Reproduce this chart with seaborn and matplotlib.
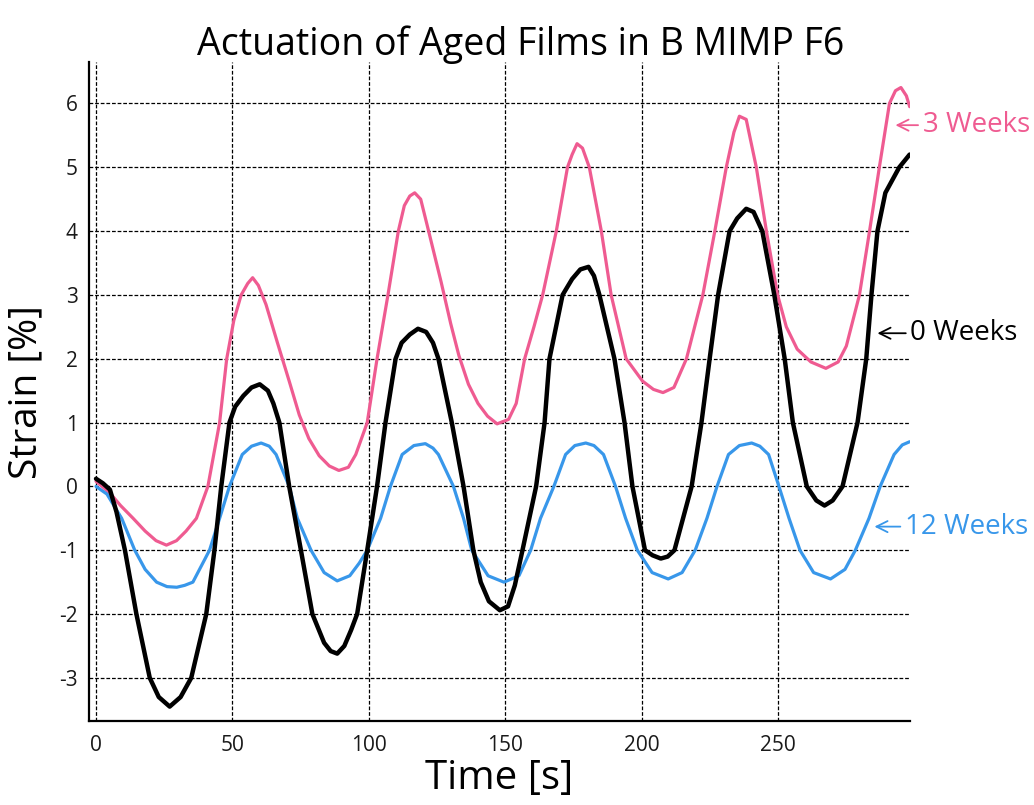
import matplotlib
matplotlib.use("Agg")
import matplotlib.pyplot as plt
import seaborn as sns

# values
black_t = [0, 2.5, 5.1, 7.5, 10.6, 14.8, 19.7, 23, 27, 31,
           34.9, 40.4, 43.4, 45.9, 48.9, 51, 54, 57, 60, 63,
           65, 67.2, 70.8, 75.1, 79.3, 83.6, 86, 88.4, 91, 93.5,
           95.7, 99.4, 103, 106.1, 109.8, 112, 115, 118, 121, 123.5,
           125.5, 130.4, 134.7, 138.3, 141, 144, 148, 151, 153.5, 156.3,
           161.3, 164.4, 166.2, 171, 174.5, 177.5, 180.5, 182.5, 184.5, 190,
           193.7, 196.6, 201.2, 204, 207, 209.5, 212, 218.3, 221.9, 224.9,
           228, 232.2, 235, 238.3, 241, 244.2, 248.6, 252.4, 255.4, 260.5,
           264, 267, 270, 273.6, 279.1, 282.3, 284.2, 286.4, 289.3, 294.4, 298.2]
black_y = [0.12, 0.05, -0.05, -0.4, -1.0, -2.0, -3.0, -3.3, -3.45, -3.3,
           -3.0, -2.0, -1.0, 0.0, 1.0, 1.25, 1.42, 1.55, 1.6, 1.5,
           1.3, 1.0, 0.0, -1.0, -2.0, -2.45, -2.58, -2.62, -2.5, -2.25,
           -2.0, -1.0, 0.0, 1.0, 2.0, 2.25, 2.38, 2.47, 2.42, 2.25,
           2.0, 1.0, 0.0, -1.0, -1.5, -1.8, -1.94, -1.88, -1.55, -1.0,
           0.0, 1.0, 2.0, 3.0, 3.25, 3.4, 3.44, 3.3, 3.0, 2.0,
           1.0, 0.0, -1.0, -1.08, -1.13, -1.1, -1.0, 0.0, 1.0, 2.0,
           3.0, 4.0, 4.2, 4.35, 4.3, 4.0, 3.0, 2.0, 1.0, 0.0,
           -0.22, -0.3, -0.22, 0.0, 1.0, 2.0, 3.0, 4.0, 4.6, 5.0, 5.2]

pink_t = [0, 5, 9, 13.6, 18, 22, 25.8, 29.5, 33, 36.8,
          41, 45.3, 47.9, 50.5, 53.2, 55.6, 57.4, 59.5, 62.3, 66.5,
          70.8, 74.5, 78, 81.8, 85.5, 89, 92.5, 95.2, 99.4, 103,
          107, 110.8, 113, 115, 116.8, 119, 121.9, 126.5, 130, 133,
          136.5, 140, 143.5, 147, 151.2, 154, 157.1, 160.5, 163.7, 168.7,
          172.8, 174.5, 176.3, 178.3, 180.8, 185.2, 188.8, 194.3, 200.3, 204.3,
          207.8, 211.8, 216.4, 222.4, 226.8, 231, 233.8, 235.8, 238.3, 242,
          245.7, 249.8, 253, 257, 262, 267.5, 272, 275, 279.8, 283.5,
          287.1, 290.8, 293, 295, 297, 298.2]
pink_y = [0.08, -0.1, -0.3, -0.5, -0.7, -0.85, -0.92, -0.85, -0.7, -0.5,
          0.0, 1.0, 2.0, 2.6, 3.0, 3.18, 3.27, 3.15, 2.85, 2.25,
          1.65, 1.12, 0.75, 0.48, 0.32, 0.25, 0.3, 0.5, 1.0, 2.0,
          3.0, 4.0, 4.4, 4.55, 4.6, 4.5, 4.0, 3.2, 2.55, 2.05,
          1.6, 1.3, 1.1, 0.98, 1.05, 1.3, 2.0, 2.5, 3.0, 4.0,
          5.0, 5.2, 5.37, 5.3, 5.0, 4.0, 3.0, 2.0, 1.65, 1.52,
          1.47, 1.55, 2.0, 3.0, 4.0, 5.0, 5.55, 5.8, 5.75, 5.0,
          4.0, 3.0, 2.5, 2.15, 1.95, 1.85, 1.95, 2.2, 3.0, 4.0,
          5.0, 6.0, 6.2, 6.25, 6.12, 5.95]

blue_t = [0, 4, 9.4, 14.2, 18, 22.2, 26, 29.6, 32.5, 35.5,
          41.6, 45.3, 48.9, 53.6, 57, 60.5, 63.5, 66, 70.8, 73.8,
          78.8, 83.6, 88.4, 93, 96.5, 99.4, 104.3, 107.9, 112.2, 116.5,
          120.7, 123.5, 125.5, 131, 134.7, 137.7, 143.7, 149.5, 155, 159.3,
          162.9, 167.8, 172.1, 175.5, 179.5, 182.5, 186, 190.4, 194.1, 198.4,
          203.8, 209.7, 214.8, 219.6, 223.9, 227.6, 231.8, 235.8, 240.3, 243.3,
          246.5, 250.3, 254, 258, 263, 269.2, 274.5, 278.3, 283.3, 287.4,
          292.5, 295.5, 298.2]
blue_y = [0.0, -0.12, -0.5, -1.0, -1.3, -1.5, -1.57, -1.58, -1.55, -1.5,
          -1.0, -0.5, 0.0, 0.5, 0.63, 0.68, 0.63, 0.5, 0.0, -0.5,
          -1.0, -1.35, -1.48, -1.4, -1.2, -1.0, -0.5, 0.0, 0.5, 0.64,
          0.67, 0.6, 0.5, 0.0, -0.5, -1.0, -1.4, -1.5, -1.4, -1.0,
          -0.5, 0.0, 0.5, 0.64, 0.68, 0.64, 0.5, 0.0, -0.5, -1.0,
          -1.35, -1.45, -1.35, -1.0, -0.5, 0.0, 0.5, 0.64, 0.68, 0.63,
          0.5, 0.0, -0.5, -1.0, -1.35, -1.45, -1.3, -1.0, -0.5, 0.0,
          0.5, 0.65, 0.7]

x_ticks = [0, 50, 100, 150, 200, 250]
y_ticks = [-3, -2, -1, 0, 1, 2, 3, 4, 5, 6]

PINK = "#ef5b91"
BLUE = "#3897ea"
BLACK = "#000000"

sns.set_theme(style="white")
plt.rcParams["font.family"] = ["Open Sans", "DejaVu Sans"]
plt.rcParams["text.color"] = "black"
plt.rcParams["axes.labelcolor"] = "black"

fig = plt.figure(figsize=(10.34, 8.05), dpi=100)
ax = fig.add_axes([0.086, 0.104, 0.794, 0.819])

sns.lineplot(x=pink_t, y=pink_y, color=PINK, linewidth=2.3, ax=ax, zorder=3)
sns.lineplot(x=blue_t, y=blue_y, color=BLUE, linewidth=2.3, ax=ax, zorder=3)
sns.lineplot(x=black_t, y=black_y, color=BLACK, linewidth=3.2, ax=ax, zorder=4)

ax.set_xlim(-2.6, 298.3)
ax.set_ylim(-3.68, 6.65)
ax.set_xticks(x_ticks)
ax.set_yticks(y_ticks)
ax.set_xticklabels([str(v) for v in x_ticks])
ax.set_yticklabels([str(v) for v in y_ticks])
ax.tick_params(length=0, labelsize=15, colors="#1a1a1a")
ax.tick_params(axis="x", pad=10)
ax.tick_params(axis="y", pad=8)

ax.grid(True, color="black", linestyle=(0, (3, 1.5)), linewidth=0.9)
ax.set_axisbelow(True)
for side in ["top", "right"]:
    ax.spines[side].set_visible(False)
for side in ["left", "bottom"]:
    ax.spines[side].set_color("black")
    ax.spines[side].set_linewidth(1.6)

ax.set_xlabel("Time [s]", fontsize=29, labelpad=2)
ax.set_ylabel("Strain [%]", fontsize=28, labelpad=10)
ax.set_title("Actuation of Aged Films in B MIMP F6", fontsize=27, pad=5, x=0.526)

# curve labels with arrows
ax.annotate("3 Weeks", xy=(293, 5.66), xytext=(303, 5.66), color=PINK,
            fontsize=20, va="center", ha="left", annotation_clip=False,
            arrowprops=dict(arrowstyle="->", color=PINK, lw=1.3, shrinkA=1, shrinkB=0))
ax.annotate("0 Weeks", xy=(286.4, 2.4), xytext=(298.5, 2.4), color=BLACK,
            fontsize=20, va="center", ha="left", annotation_clip=False,
            arrowprops=dict(arrowstyle="->", color=BLACK, lw=1.3, shrinkA=1, shrinkB=0))
ax.annotate("12 Weeks", xy=(285.3, -0.63), xytext=(296.5, -0.63), color=BLUE,
            fontsize=20, va="center", ha="left", annotation_clip=False,
            arrowprops=dict(arrowstyle="->", color=BLUE, lw=1.3, shrinkA=1, shrinkB=0))

fig.savefig("out.png", dpi=100)
